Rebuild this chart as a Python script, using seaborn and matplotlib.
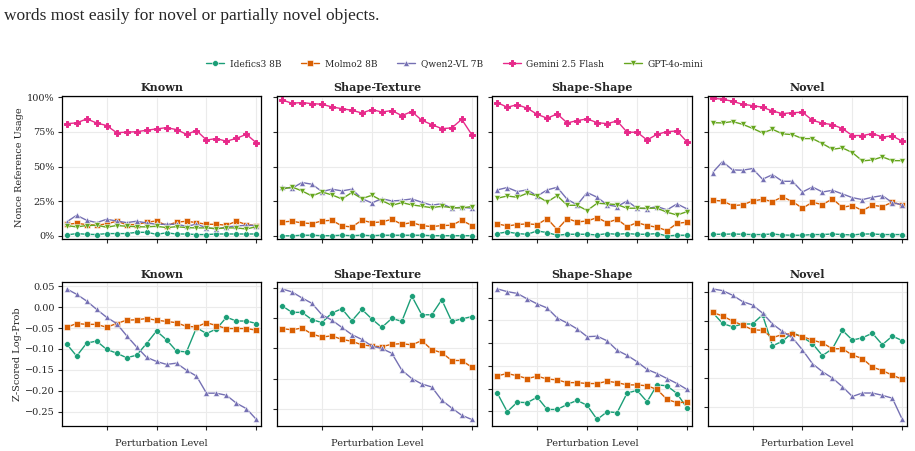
import numpy as np
import pandas as pd
import matplotlib
matplotlib.use("Agg")
import matplotlib.pyplot as plt
from matplotlib.ticker import PercentFormatter, MultipleLocator, FixedLocator, NullFormatter
import seaborn as sns

# ---------------- data ----------------
levels = list(range(1, 21))
models = ["Idefics3 8B", "Molmo2 8B", "Qwen2-VL 7B", "Gemini 2.5 Flash", "GPT-4o-mini"]
conditions = ["Known", "Shape-Texture", "Shape-Shape", "Novel"]
colors = ["#1b9e77", "#d95f02", "#7570b3", "#e7298a", "#66a61e"]
marker_list = ["o", "s", "^", "P", "v"]

# Nonce reference usage (%)
use_known_idefics = [0.7, 1.7, 1.2, 1.0, 1.7, 1.7, 1.7, 2.6, 2.6, 1.2, 2.2, 1.4, 1.4, 1.0, 1.0, 1.4, 1.4, 1.4, 1.4, 1.4]
use_known_molmo = [8.4, 9.1, 8.2, 7.7, 8.7, 10.6, 8.2, 8.2, 9.9, 10.8, 7.5, 9.9, 10.6, 9.6, 8.4, 8.4, 7.7, 10.6, 8.2, 7.5]
use_known_qwen = [10.1, 14.9, 11.3, 9.6, 12.0, 10.8, 9.6, 10.6, 9.4, 8.4, 8.4, 8.4, 7.0, 8.4, 6.0, 5.0, 6.5, 7.2, 7.7, 7.5]
use_known_gemini = [81.0, 81.5, 84.4, 81.5, 79.6, 74.5, 74.8, 75.2, 76.2, 77.2, 78.1, 76.7, 73.3, 76.0, 69.2, 70.2, 68.3, 70.4, 73.3, 67.1]
use_known_gpt = [7.5, 6.5, 7.5, 7.7, 6.3, 7.5, 7.0, 6.7, 6.5, 7.0, 6.0, 6.7, 6.0, 5.8, 5.8, 5.3, 5.8, 5.8, 5.0, 6.7]

use_st_idefics = [0.1, 0.1, 0.5, 0.5, 0.2, 0.2, 0.5, 0.2, 0.5, 0.2, 0.5, 0.5, 0.5, 0.5, 0.5, 0.2, 0.2, 0.2, 0.2, 0.2]
use_st_molmo = [10.1, 10.6, 9.4, 8.9, 10.8, 11.3, 7.2, 6.5, 11.3, 9.6, 10.1, 12.0, 8.4, 9.6, 7.5, 6.7, 7.5, 7.7, 11.3, 7.5]
use_st_qwen = [35.1, 34.4, 38.5, 37.3, 32.0, 33.7, 32.5, 33.7, 26.9, 23.8, 26.9, 25.2, 25.7, 26.7, 24.3, 22.1, 23.3, 20.0, 20.7, 20.0]
use_st_gemini = [98.1, 95.7, 96.2, 95.4, 95.0, 93.0, 91.8, 90.6, 88.7, 91.1, 89.4, 90.4, 86.8, 89.7, 83.4, 80.3, 77.4, 77.9, 84.1, 73.1]
use_st_gpt = [33.7, 35.3, 32.5, 28.8, 31.7, 29.6, 26.7, 31.3, 26.9, 29.3, 25.5, 22.1, 24.0, 22.4, 21.4, 20.4, 21.4, 20.4, 20.2, 21.2]

use_ss_idefics = [1.7, 2.9, 1.7, 1.2, 3.6, 2.4, 0.5, 1.2, 1.2, 1.2, 0.7, 1.7, 1.2, 1.7, 1.2, 1.2, 1.7, 0.0, 0.5, 0.5]
use_ss_molmo = [8.7, 7.2, 8.2, 8.7, 8.2, 12.5, 4.6, 12.5, 10.1, 10.8, 13.2, 9.6, 12.0, 6.7, 9.6, 7.5, 6.3, 3.8, 9.1, 9.9]
use_ss_qwen = [33.2, 34.9, 32.0, 33.2, 28.8, 33.2, 35.1, 26.4, 22.4, 31.3, 27.9, 22.4, 21.2, 25.2, 20.0, 19.7, 21.2, 18.8, 23.1, 19.5]
use_ss_gemini = [96.2, 92.8, 94.7, 92.1, 87.7, 84.9, 88.0, 81.5, 83.2, 84.4, 81.7, 81.0, 82.9, 74.8, 74.8, 69.2, 73.3, 75.2, 75.7, 67.8]
use_ss_gpt = [27.2, 28.8, 27.9, 30.8, 28.8, 24.5, 29.1, 22.1, 22.1, 18.3, 23.6, 23.1, 22.6, 20.0, 20.0, 20.0, 20.0, 17.1, 15.1, 17.5]

use_novel_idefics = [1.2, 1.2, 1.4, 1.2, 1.0, 1.0, 1.4, 0.7, 0.5, 0.5, 1.0, 1.0, 1.4, 1.0, 0.7, 1.4, 1.4, 1.0, 1.0, 1.0]
use_novel_molmo = [25.7, 25.2, 21.9, 22.4, 25.2, 26.4, 24.8, 28.1, 24.8, 20.0, 24.3, 22.6, 26.7, 20.7, 21.9, 18.3, 22.1, 21.2, 24.3, 22.4]
use_novel_qwen = [45.7, 53.6, 47.6, 47.4, 48.6, 40.9, 44.2, 39.4, 39.4, 31.7, 35.3, 31.7, 32.9, 30.3, 27.6, 26.2, 27.9, 29.1, 24.0, 22.4]
use_novel_gemini = [99.3, 98.6, 97.1, 95.0, 94.0, 92.8, 90.1, 88.2, 88.9, 89.2, 83.4, 81.3, 80.3, 77.4, 72.4, 72.4, 73.8, 71.4, 72.1, 68.3]
use_novel_gpt = [81.7, 81.5, 82.5, 80.5, 77.6, 74.3, 76.9, 73.6, 73.1, 70.2, 70.2, 66.6, 62.5, 63.5, 60.1, 54.1, 54.8, 57.0, 54.3, 54.3]

# Z-scored log-prob
lp_known_idefics = [-0.088, -0.117, -0.086, -0.081, -0.101, -0.110, -0.121, -0.115, -0.087, -0.057, -0.078, -0.105, -0.107, -0.049, -0.063, -0.052, -0.024, -0.033, -0.033, -0.039]
lp_known_molmo = [-0.048, -0.039, -0.041, -0.041, -0.048, -0.039, -0.031, -0.030, -0.027, -0.031, -0.034, -0.037, -0.046, -0.047, -0.037, -0.044, -0.051, -0.051, -0.051, -0.055]
lp_known_qwen = [0.044, 0.031, 0.015, -0.005, -0.024, -0.039, -0.068, -0.095, -0.120, -0.130, -0.137, -0.134, -0.151, -0.165, -0.206, -0.206, -0.211, -0.230, -0.243, -0.269]

lp_st_idefics = [0.021, 0.010, 0.010, -0.002, -0.007, 0.009, 0.016, -0.004, 0.015, -0.001, -0.015, 0.000, -0.005, 0.037, 0.006, 0.006, 0.031, -0.005, -0.001, 0.003]
lp_st_molmo = [-0.017, -0.019, -0.016, -0.026, -0.031, -0.029, -0.035, -0.038, -0.044, -0.046, -0.047, -0.043, -0.042, -0.044, -0.037, -0.052, -0.057, -0.070, -0.070, -0.081]
lp_st_qwen = [0.049, 0.044, 0.034, 0.025, 0.006, -0.003, -0.015, -0.027, -0.035, -0.046, -0.050, -0.058, -0.086, -0.100, -0.109, -0.114, -0.136, -0.149, -0.161, -0.168]

lp_ss_idefics = [-0.160, -0.201, -0.180, -0.181, -0.169, -0.196, -0.196, -0.185, -0.176, -0.187, -0.218, -0.201, -0.203, -0.160, -0.154, -0.179, -0.142, -0.144, -0.161, -0.193]
lp_ss_molmo = [-0.122, -0.117, -0.122, -0.128, -0.123, -0.129, -0.131, -0.137, -0.137, -0.139, -0.139, -0.134, -0.137, -0.142, -0.142, -0.144, -0.152, -0.174, -0.181, -0.180]
lp_ss_qwen = [0.069, 0.063, 0.059, 0.047, 0.036, 0.027, 0.005, -0.006, -0.019, -0.036, -0.035, -0.045, -0.066, -0.077, -0.091, -0.108, -0.117, -0.128, -0.139, -0.152]

lp_novel_idefics = [0.014, -0.005, -0.011, -0.006, -0.006, 0.010, -0.044, -0.036, -0.021, -0.029, -0.040, -0.061, -0.049, -0.017, -0.034, -0.030, -0.022, -0.042, -0.027, -0.035]
lp_novel_molmo = [0.014, 0.008, -0.001, -0.008, -0.016, -0.017, -0.030, -0.024, -0.023, -0.028, -0.034, -0.039, -0.049, -0.049, -0.060, -0.066, -0.081, -0.087, -0.095, -0.102]
lp_novel_qwen = [0.055, 0.052, 0.044, 0.033, 0.027, 0.013, -0.006, -0.019, -0.030, -0.051, -0.075, -0.089, -0.100, -0.115, -0.132, -0.126, -0.126, -0.130, -0.135, -0.172]

usage = {
    "Known": [use_known_idefics, use_known_molmo, use_known_qwen, use_known_gemini, use_known_gpt],
    "Shape-Texture": [use_st_idefics, use_st_molmo, use_st_qwen, use_st_gemini, use_st_gpt],
    "Shape-Shape": [use_ss_idefics, use_ss_molmo, use_ss_qwen, use_ss_gemini, use_ss_gpt],
    "Novel": [use_novel_idefics, use_novel_molmo, use_novel_qwen, use_novel_gemini, use_novel_gpt],
}
logprob = {
    "Known": [lp_known_idefics, lp_known_molmo, lp_known_qwen],
    "Shape-Texture": [lp_st_idefics, lp_st_molmo, lp_st_qwen],
    "Shape-Shape": [lp_ss_idefics, lp_ss_molmo, lp_ss_qwen],
    "Novel": [lp_novel_idefics, lp_novel_molmo, lp_novel_qwen],
}

def long_df(series_list):
    rows = []
    for m, vals in zip(models, series_list):
        for lv, v in zip(levels, vals):
            rows.append({"level": lv, "value": v, "model": m})
    return pd.DataFrame(rows)

# ---------------- style ----------------
sns.set_theme(style="ticks")
plt.rcParams["font.family"] = ["DejaVu Serif"]
plt.rcParams.update({
    "axes.edgecolor": "black",
    "axes.linewidth": 0.9,
    "xtick.major.size": 3,
    "ytick.major.size": 3,
    "xtick.major.width": 0.8,
    "ytick.major.width": 0.8,
    "xtick.labelsize": 7,
    "ytick.labelsize": 7,
    "axes.labelsize": 7,
})

palette = dict(zip(models, colors))
markers = dict(zip(models, marker_list))
pink = colors[3]

def fatten_plus(line):
    if line.get_marker() == "P":
        line.set_markersize(4.6)
        line.set_markerfacecolor(pink)
        line.set_markeredgecolor(pink)
        line.set_markeredgewidth(0.7)

fig, axes = plt.subplots(2, 4, figsize=(9.15, 4.51), dpi=100)
fig.subplots_adjust(left=0.0674, right=0.9916, top=0.788, bottom=0.0554,
                    wspace=0.078, hspace=0.30)

for c, cond in enumerate(conditions):
    # top row
    ax = axes[0, c]
    df = long_df(usage[cond])
    sns.lineplot(data=df, x="level", y="value", hue="model", style="model",
                 palette=palette, markers=markers, dashes=False, ax=ax,
                 markersize=4.2, linewidth=1.0, markeredgecolor="white",
                 markeredgewidth=0.4, legend=(c == 0))
    for ln in ax.get_lines():
        fatten_plus(ln)
    ax.set_ylim(-2.4, 101.2)
    ax.yaxis.set_major_locator(FixedLocator([0, 25, 50, 75, 100]))
    ax.yaxis.set_major_formatter(PercentFormatter(100, decimals=0))
    # bottom row
    axb = axes[1, c]
    dfb = long_df(logprob[cond])
    sns.lineplot(data=dfb, x="level", y="value", hue="model", style="model",
                 palette=palette, markers=markers, dashes=False, ax=axb,
                 markersize=4.2, linewidth=1.0, markeredgecolor="white",
                 markeredgewidth=0.4, legend=False)
    axb.yaxis.set_major_locator(MultipleLocator(0.05))
    axb.yaxis.set_major_formatter(plt.FuncFormatter(lambda v, p: f"{v:.2f}".replace("-", "\u2212")))
    for a, row in ((ax, 0), (axb, 1)):
        a.set_xlim(0.5, 20.5)
        a.xaxis.set_major_locator(FixedLocator([5, 10, 15, 20]))
        a.xaxis.set_major_formatter(NullFormatter())
        a.grid(True, color="#ebebeb", linewidth=0.8)
        a.set_axisbelow(True)
        for s in a.spines.values():
            s.set_visible(True)
            s.set_color("black")
        a.set_title(cond, fontsize=8, fontweight="bold", pad=3)
        a.set_xlabel("Perturbation Level" if row == 1 else "")
        if c == 0:
            a.set_ylabel("Nonce Reference Usage" if row == 0 else "Z-Scored Log-Prob", labelpad=2)
        else:
            a.set_ylabel("")
            a.yaxis.set_major_formatter(NullFormatter())
        a.tick_params(pad=2)

handles, labels = axes[0, 0].get_legend_handles_labels()
axes[0, 0].get_legend().remove()
for h in handles:
    if hasattr(h, "get_marker"):
        fatten_plus(h)
fig.legend(handles, labels, loc="center", bbox_to_anchor=(0.497, 0.858), ncol=5,
           frameon=False, fontsize=6.5, handlelength=2.0, columnspacing=2.2,
           handletextpad=0.6)

fig.text(0.004, 0.965, "words most easily for novel or partially novel objects.",
         fontsize=12.5, family=["Liberation Serif"], ha="left", va="center")

fig.savefig("out.png", dpi=100)
